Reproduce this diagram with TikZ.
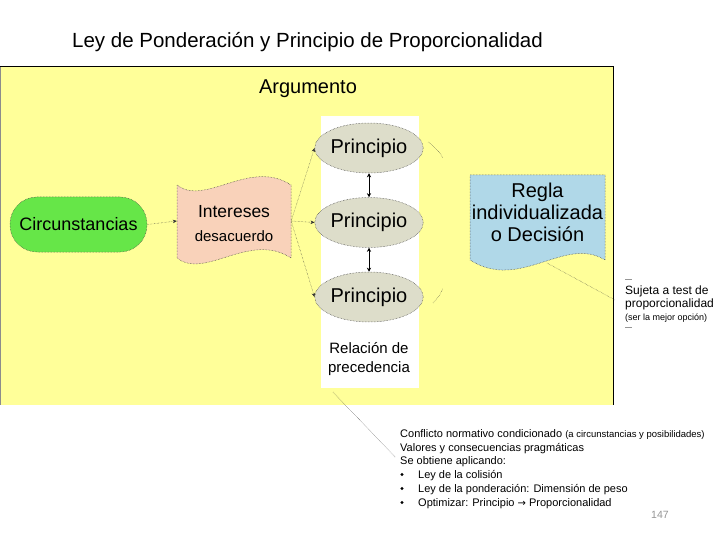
\documentclass[tikz,border=0pt]{standalone}
\usepackage{fontspec}
\setmainfont{Liberation Sans}
\newfontfamily\djv{DejaVu Sans}
\usetikzlibrary{shapes.geometric,arrows.meta}
\definecolor{bgyellow}{RGB}{255,255,153}
\definecolor{circgreen}{RGB}{102,230,72}
\definecolor{princgray}{RGB}{221,221,202}
\definecolor{peach}{RGB}{249,210,186}
\definecolor{lblue}{RGB}{176,216,232}
\definecolor{pgnum}{RGB}{150,150,150}
\newcommand{\fsz}[1]{\fontsize{#1}{#1}\selectfont}
\tikzset{
  outl/.style={draw=black!75, densely dotted, line width=0.5pt},
  conn/.style={draw=black!80, densely dotted, line width=0.4pt, -{Stealth[length=4pt,width=3.5pt]}},
  dotline/.style={draw=black!80, densely dotted, line width=0.4pt},
  dblarrow/.style={draw=black, line width=0.6pt, {Stealth[length=4pt,width=4pt]}-{Stealth[length=4pt,width=4pt]}},
  lbl/.style={inner sep=0pt, align=center},
  tline/.style={inner sep=0pt, anchor=base west, font=\fsz{11}},
}
\begin{document}
\begin{tikzpicture}[x=1pt,y=-1pt]
\useasboundingbox (0,0) rectangle (720,540);
\fill[white] (0,0) rectangle (720,540);
% title
\node[lbl, font=\fsz{20.5}] (title) at (307.5,42) {Ley de Ponderación y Principio de Proporcionalidad};
% yellow panel
\fill[bgyellow] (0,67) rectangle (613,405);
\draw[black, line width=1pt] (0,67) -- (613,67) -- (613,405);
\draw[black!45, line width=1pt] (0.5,67) -- (0.5,405);
\node[lbl, font=\fsz{20}] (arg) at (308,89) {Argumento};
% white column
\node[fill=white, minimum width=98pt, minimum height=272pt, inner sep=0pt] (col) at (370,252) {};
% principles
\foreach \n/\y in {p1/148,p2/222.5,p3/297}{
  \node[ellipse, fill=princgray, outl, minimum width=98pt, minimum height=50pt, inner sep=0pt, font=\fsz{20}] (\n) at (369,\y) {Principio};
}
\draw[dblarrow] (p1.south) -- (p2.north);
\draw[dblarrow] (p2.south) -- (p3.north);
\node[lbl, font=\fsz{15}] (prec) at (369,359) {Relación de\\[4pt]precedencia};
% circunstancias
\node[fill=circgreen, outl, rounded corners=27pt, minimum width=137pt, minimum height=55pt, inner sep=0pt, font=\fsz{18}] (circ) at (78.5,224.5) {Circunstancias};
% intereses (punched tape)
\path[fill=peach, outl] (177,185) .. controls (205,207) and (250,158) .. (291,185)
   -- (291,258) .. controls (250,231) and (205,280) .. (177,258) -- cycle;
\node[minimum width=114pt, minimum height=70pt, inner sep=0pt] (int) at (234,221) {};
\node[lbl, font=\fsz{17.5}] (intA) at (234,212) {Intereses};
\node[lbl, font=\fsz{15}] (intB) at (234,236) {desacuerdo};
% regla (document)
\path[fill=lblue, outl] (470,175) -- (605,175) -- (605,260)
   .. controls (565,235) and (520,292) .. (470,260) -- cycle;
\node[minimum width=135pt, minimum height=90pt, inner sep=0pt] (regla) at (537.5,220) {};
\node[lbl, font=\fsz{20}] (reglaT) at (537.5,212) {Regla\\[2pt]individualizada\\[2pt]o Decisión};
% connectors
\draw[conn] (circ.east) -- (int.west);
\draw[conn] (int.east) -- (p1.west);
\draw[conn] (int.east) -- (p2.west);
\draw[conn] (int.east) -- (p3.west);
\coordinate (a1s) at (428,142); \coordinate (a1e) at (443,158);
\coordinate (a3s) at (433,303); \coordinate (a3e) at (443,288);
\draw[dotline] (a1s) to[bend left=12] (a1e);
\draw[dotline] (a3s) to[bend right=12] (a3e);
% sujeta
\coordinate (rfoot) at (547,263);
\coordinate (sujin) at (615,300);
\draw[dotline] (rfoot) -- (sujin);
\draw[pgnum, line width=0.6pt] (625,279) -- (632,279);
\draw[pgnum, line width=0.6pt] (625,327) -- (632,327);
\node[inner sep=0pt, anchor=base west, font=\fsz{12}] (suj1) at (625,294) {Sujeta a test de};
\node[inner sep=0pt, anchor=base west, font=\fsz{12}] (suj2) at (625,307) {proporcionalidad};
\node[inner sep=0pt, anchor=base west, font=\fsz{9}] (suj3) at (625,320) {(ser la mejor opción)};
% bottom text
\coordinate (pfoot) at (333,392);
\coordinate (tin) at (395,457);
\draw[dotline] (pfoot) -- (tin);
\node[tline] (l1) at (400,437) {Conflicto normativo condicionado \fsz{9.5}(a circunstancias y posibilidades)};
\node[tline] (l2) at (400,451) {Valores y consecuencias pragmáticas};
\node[tline] (l3) at (400,464.5) {Se obtiene aplicando:};
\node[tline] (l4) at (418,478) {Ley de la colisión};
\node[tline] (l5) at (418,492) {Ley de la ponderación: Dimensión de peso};
\node[tline] (l6) at (418,506) {Optimizar: Principio {\djv\fsz{10}→} Proporcionalidad};
\foreach \y in {474.5,488.5,502.5}{\fill[black] (402,\y) circle (1.6pt);}
\node[lbl, font=\fsz{10.5}, text=pgnum] (pg) at (660,515) {147};
\end{tikzpicture}
\end{document}
